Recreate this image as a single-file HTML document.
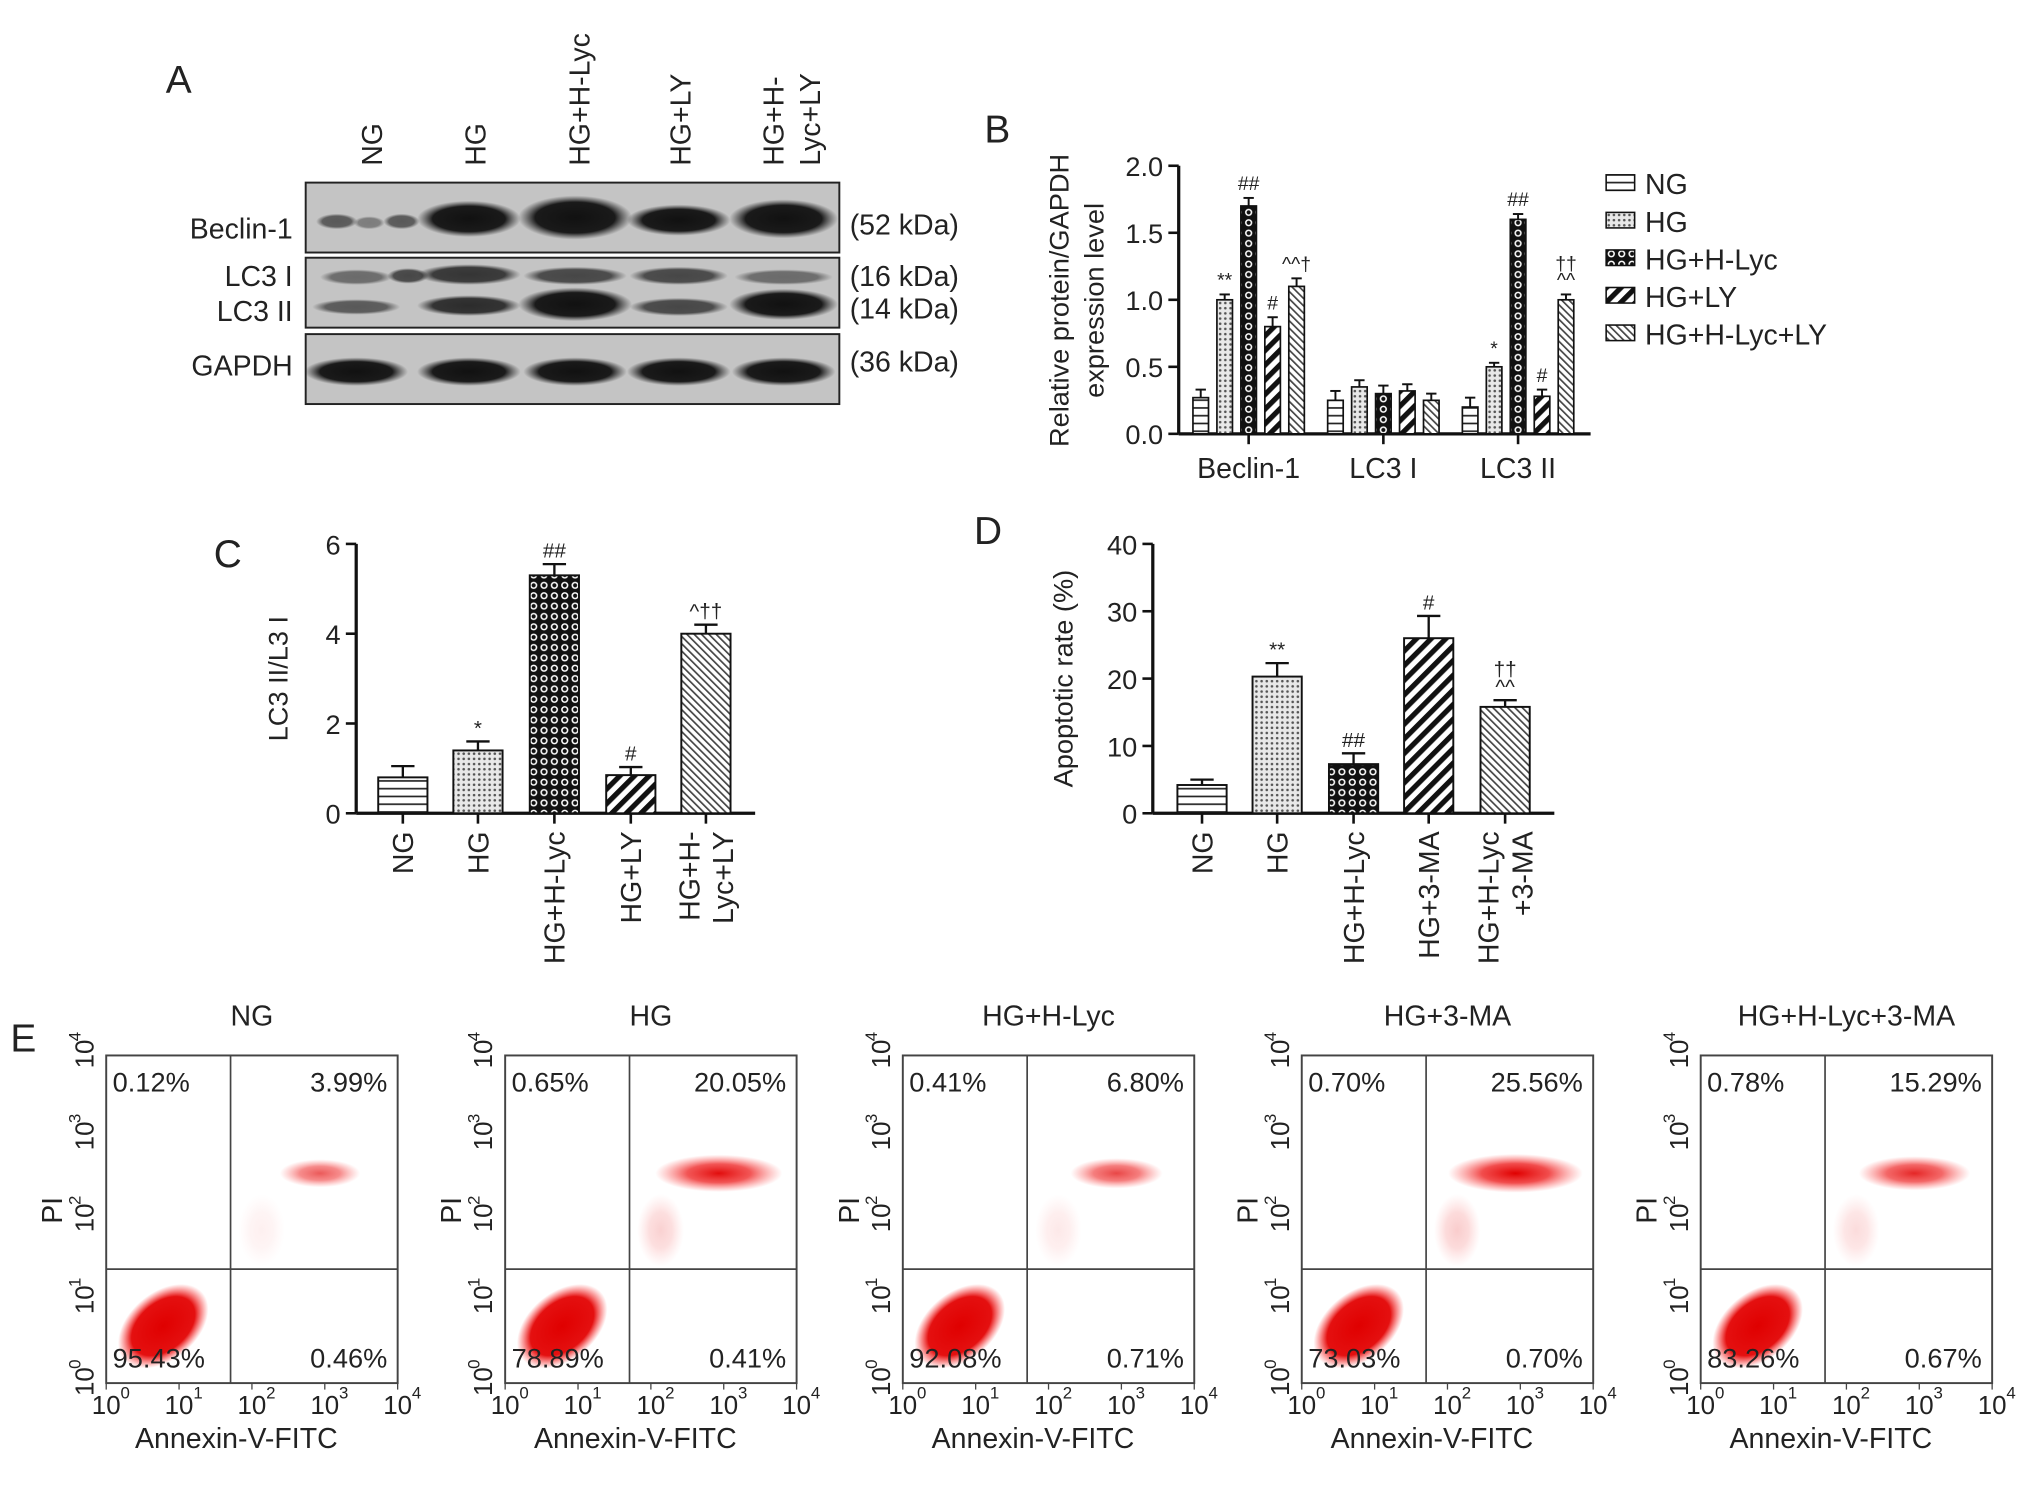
<!DOCTYPE html>
<html><head><meta charset="utf-8"><style>
html,body{margin:0;padding:0;background:#fff}
svg{display:block}
text{font-family:"Liberation Sans",Arial,sans-serif;fill:#222}
</style></head><body>
<svg id="fig" xmlns="http://www.w3.org/2000/svg" width="2031" height="1488" viewBox="0 0 1568 1149" preserveAspectRatio="none">
<defs>
<pattern id="p0" width="6" height="6" patternUnits="userSpaceOnUse"><rect width="6" height="6" fill="#fff"/><line x1="0" y1="3" x2="6" y2="3" stroke="#222" stroke-width="1.3"/></pattern>
<pattern id="p1" width="4" height="4" patternUnits="userSpaceOnUse"><rect width="4" height="4" fill="#e8e8e8"/><circle cx="2" cy="2" r="1" fill="#555"/></pattern>
<pattern id="p2" width="8" height="8" patternUnits="userSpaceOnUse"><rect width="8" height="8" fill="#111"/><circle cx="4" cy="4" r="2.2" fill="none" stroke="#fff" stroke-width="1.2"/></pattern>
<pattern id="p3" width="8" height="8" patternUnits="userSpaceOnUse" patternTransform="rotate(45)"><rect width="8" height="8" fill="#fff"/><rect width="4" height="8" fill="#111"/></pattern>
<pattern id="p4" width="4" height="4" patternUnits="userSpaceOnUse" patternTransform="rotate(-45)"><rect width="4" height="4" fill="#fff"/><rect width="1.3" height="4" fill="#444"/></pattern>
<radialGradient id="cloud"><stop offset="0" stop-color="#e00000"/><stop offset="0.7" stop-color="#e41010"/><stop offset="1" stop-color="#ff3030" stop-opacity="0"/></radialGradient>
<radialGradient id="cloud2"><stop offset="0" stop-color="#e00000"/><stop offset="0.5" stop-color="#ee2020" stop-opacity="0.8"/><stop offset="1" stop-color="#ff5050" stop-opacity="0"/></radialGradient>
<radialGradient id="band"><stop offset="0" stop-color="#111"/><stop offset="0.7" stop-color="#1a1a1a"/><stop offset="1" stop-color="#333" stop-opacity="0"/></radialGradient>
</defs>

<g>
<text x="128" y="72" font-size="30">A</text>
<g font-size="22">
<text transform="translate(295,128) rotate(-90)">NG</text>
<text transform="translate(375,128) rotate(-90)">HG</text>
<text transform="translate(455,128) rotate(-90)">HG+H-Lyc</text>
<text transform="translate(533,128) rotate(-90)">HG+LY</text>
<text transform="translate(605,128) rotate(-90)">HG+H-</text>
<text transform="translate(633,128) rotate(-90)">Lyc+LY</text>
</g>
<g fill="#c4c4c4" stroke="#222" stroke-width="1.5">
<rect x="236" y="141" width="412" height="54"/>
<rect x="236" y="199" width="412" height="54"/>
<rect x="236" y="258" width="412" height="54"/>
</g>
<g fill="url(#band)">
<ellipse cx="260" cy="171" rx="16" ry="6" opacity="0.6"/><ellipse cx="285" cy="172" rx="12" ry="5" opacity="0.4"/><ellipse cx="310" cy="171" rx="14" ry="6" opacity="0.6"/>
<ellipse cx="362" cy="169" rx="40" ry="14"/><ellipse cx="444" cy="168" rx="44" ry="17"/><ellipse cx="524" cy="170" rx="40" ry="12"/><ellipse cx="605" cy="169" rx="42" ry="15"/>
<ellipse cx="275" cy="214" rx="28" ry="6" opacity="0.5"/><ellipse cx="315" cy="213" rx="16" ry="6" opacity="0.7"/><ellipse cx="362" cy="212" rx="40" ry="8" opacity="0.8"/><ellipse cx="444" cy="213" rx="40" ry="7" opacity="0.7"/><ellipse cx="524" cy="213" rx="38" ry="7" opacity="0.7"/><ellipse cx="605" cy="214" rx="38" ry="6" opacity="0.5"/>
<ellipse cx="275" cy="237" rx="34" ry="6" opacity="0.6"/><ellipse cx="362" cy="236" rx="40" ry="8" opacity="0.85"/><ellipse cx="444" cy="235" rx="44" ry="13"/><ellipse cx="524" cy="237" rx="38" ry="7" opacity="0.7"/><ellipse cx="605" cy="235" rx="42" ry="12"/>
<ellipse cx="275" cy="287" rx="40" ry="11"/><ellipse cx="362" cy="287" rx="40" ry="11"/><ellipse cx="444" cy="287" rx="40" ry="11"/><ellipse cx="524" cy="287" rx="40" ry="11"/><ellipse cx="605" cy="287" rx="40" ry="11"/>
</g>
<g font-size="22">
<text x="226" y="184" text-anchor="end">Beclin-1</text>
<text x="226" y="221" text-anchor="end">LC3 I</text>
<text x="226" y="248" text-anchor="end">LC3 II</text>
<text x="226" y="290" text-anchor="end">GAPDH</text>
<text x="656" y="181">(52 kDa)</text>
<text x="656" y="221">(16 kDa)</text>
<text x="656" y="246">(14 kDa)</text>
<text x="656" y="287">(36 kDa)</text>
</g>
</g>

<g id="pb"></g>
<g id="pc"></g>
<g id="pd"></g>
<g id="pe"></g>
</svg>
<script>
const bGroups = ["Beclin-1","LC3 I","LC3 II"];
const bSeries = ["NG","HG","HG+H-Lyc","HG+LY","HG+H-Lyc+LY"];
const bValues = [[0.27,0.25,0.2],[1.0,0.35,0.5],[1.7,0.3,1.6],[0.8,0.32,0.28],[1.1,0.25,1.0]];
const bErrors = [[0.06,0.07,0.07],[0.04,0.05,0.03],[0.06,0.06,0.04],[0.07,0.05,0.05],[0.06,0.05,0.04]];
const bMarks = [["","",""],["**","","*"],["##","","##"],["#","","#"],["^^†","","††\n^^"]];
const bTicks = [0,0.5,1.0,1.5,2.0];
const cCats = ["NG","HG","HG+H-Lyc","HG+LY","HG+H-\nLyc+LY"];
const cValues = [0.8,1.4,5.3,0.85,4.0];
const cErrors = [0.25,0.2,0.25,0.18,0.2];
const cMarks = ["","*","##","#","^††"];
const cTicks = [0,2,4,6];
const dCats = ["NG","HG","HG+H-Lyc","HG+3-MA","HG+H-Lyc\n+3-MA"];
const dValues = [4.2,20.3,7.3,26,15.8];
const dErrors = [0.8,2.0,1.6,3.3,1.0];
const dMarks = ["","**","##","#","††\n^^"];
const dTicks = [0,10,20,30,40];
const eTitles = ["NG","HG","HG+H-Lyc","HG+3-MA","HG+H-Lyc+3-MA"];
const eUL = ["0.12%","0.65%","0.41%","0.70%","0.78%"];
const eUR = ["3.99%","20.05%","6.80%","25.56%","15.29%"];
const eLL = ["95.43%","78.89%","92.08%","73.03%","83.26%"];
const eLR = ["0.46%","0.41%","0.71%","0.70%","0.67%"];

const NS="http://www.w3.org/2000/svg";
function mk(parent,tag,attrs,txt){const e=document.createElementNS(NS,tag);for(const k in attrs)e.setAttribute(k,attrs[k]);if(txt!==undefined)e.textContent=txt;parent.appendChild(e);return e;}
function label(parent,x,y,str,size,anchor){const lines=str.split("\n");lines.forEach((l,i)=>{const t=mk(parent,"text",{x:x,y:y-(lines.length-1-i)*size*0.85,"font-size":size,"text-anchor":anchor||"middle"},l);

});}

function axisY(g,x,y0,y1,ticks,max,fmt,size){mk(g,"line",{x1:x,y1:y0,x2:x,y2:y1,stroke:"#111","stroke-width":2.5});
ticks.forEach(v=>{const y=y0-(v/max)*(y0-y1);mk(g,"line",{x1:x-8,y1:y,x2:x,y2:y,stroke:"#111","stroke-width":2});
const t=mk(g,"text",{x:x-12,y:y+8,"font-size":size,"text-anchor":"end"},fmt(v));

});}

(function(){const g=document.getElementById("pb");
const x0=910,y0=335,y1=128,max=2,xEnd=1228;
const Y=v=>y0-v/max*(y0-y1);
mk(g,"text",{x:760,y:110,"font-size":30},"B");
axisY(g,x0,y0,y1,bTicks,max,v=>v.toFixed(1),21);
mk(g,"line",{x1:x0,y1:y0,x2:xEnd,y2:y0,stroke:"#111","stroke-width":2.5});
const gc=[964,1068,1172];
bGroups.forEach((name,gi)=>{mk(g,"line",{x1:gc[gi],y1:y0,x2:gc[gi],y2:y0+8,stroke:"#111","stroke-width":2});
const t=mk(g,"text",{x:gc[gi],y:y0+34,"font-size":22,"text-anchor":"middle"},name);


bSeries.forEach((s,si)=>{const cx=gc[gi]+(si-2)*18.5,w=12,v=bValues[si][gi],e=bErrors[si][gi];
mk(g,"line",{x1:cx,y1:Y(v),x2:cx,y2:Y(v+e),stroke:"#111","stroke-width":1.5});
mk(g,"line",{x1:cx-4,y1:Y(v+e),x2:cx+4,y2:Y(v+e),stroke:"#111","stroke-width":1.5});
const r=mk(g,"rect",{x:cx-w/2,y:Y(v),width:w,height:y0-Y(v),fill:"url(#p"+si+")",stroke:"#111","stroke-width":1.3});


if(bMarks[si][gi])label(g,cx,Y(v+e)-6,bMarks[si][gi],15);});});
const yt=mk(g,"text",{transform:"translate(825,232) rotate(-90)","font-size":21,"text-anchor":"middle"},"Relative protein/GAPDH");

const yt2=mk(g,"text",{transform:"translate(852,232) rotate(-90)","font-size":21,"text-anchor":"middle"},"expression level");

bSeries.forEach((s,si)=>{const y=143+si*29;
const r=mk(g,"rect",{x:1240,y:y-8,width:22,height:12,fill:"url(#p"+si+")",stroke:"#111","stroke-width":1.2});


const t=mk(g,"text",{x:1270,y:y+7,"font-size":22},s);

});})();

function barPanel(id,L,x0,y0,y1,xEnd,max,ticks,cats,vals,errs,marks,cxs,ytitle,ytx){const g=document.getElementById(id);
const Y=v=>y0-v/max*(y0-y1);
const pl=mk(g,"text",{x:L[1],y:L[2],"font-size":30},L[0]);

axisY(g,x0,y0,y1,ticks,max,v=>String(v),21);
mk(g,"line",{x1:x0,y1:y0,x2:xEnd,y2:y0,stroke:"#111","stroke-width":2.5});
cats.forEach((c,i)=>{const cx=cxs[i],w=38,v=vals[i],e=errs[i];
mk(g,"line",{x1:cx,y1:Y(v),x2:cx,y2:Y(v+e),stroke:"#111","stroke-width":1.8});
mk(g,"line",{x1:cx-9,y1:Y(v+e),x2:cx+9,y2:Y(v+e),stroke:"#111","stroke-width":1.8});
const r=mk(g,"rect",{x:cx-w/2,y:Y(v),width:w,height:y0-Y(v),fill:"url(#p"+i+")",stroke:"#111","stroke-width":1.5});


mk(g,"line",{x1:cx,y1:y0,x2:cx,y2:y0+8,stroke:"#111","stroke-width":2});
if(marks[i])label(g,cx,Y(v+e)-5,marks[i],16);
const lines=c.split("\n");lines.forEach((l,li)=>{const t=mk(g,"text",{transform:"translate("+(cx+8+(li-(lines.length-1)/2)*26)+","+(y0+14)+") rotate(-90)","font-size":22,"text-anchor":"end"},l);

});});
const yt=mk(g,"text",{transform:"translate("+ytx+","+((y0+y1)/2)+") rotate(-90)","font-size":21,"text-anchor":"middle"},ytitle);
}
barPanel("pc",["C",165,438],275,628,420,583,6,cTicks,cCats,cValues,cErrors,cMarks,[311,369,428,487,545],"LC3 II/L3 I",222);
barPanel("pd",["D",752,420],890,628,420,1200,40,dTicks,dCats,dValues,dErrors,dMarks,[928,986,1045,1103,1162],"Apoptotic rate (%)",828);

(function(){const g=document.getElementById("pe");
const pe=mk(g,"text",{x:8,y:812,"font-size":30},"E");
const px=[82,390,697,1005,1313],W=225,top=815,bot=1068;
const hiW=[0.3,0.9,0.45,1.0,0.7];
eTitles.forEach((t,i)=>{const x=px[i],sub=mk(g,"g",{});


const tt=mk(sub,"text",{x:x+W/2,y:792,"font-size":22,"text-anchor":"middle"},t);
const qx=x+96,qy=980;
mk(sub,"ellipse",{cx:x+44,cy:1024,rx:40,ry:26,fill:"url(#cloud)",transform:"rotate(-40 "+(x+44)+" 1024)"});
mk(sub,"ellipse",{cx:x+165,cy:906,rx:22+30*hiW[i],ry:9+6*hiW[i],fill:"url(#cloud2)",opacity:0.5+0.5*hiW[i]});
mk(sub,"ellipse",{cx:x+120,cy:950,rx:18,ry:28,fill:"url(#cloud2)",opacity:0.2*hiW[i]});
mk(sub,"rect",{x:x,y:top,width:W,height:bot-top,fill:"none",stroke:"#444","stroke-width":1.5});
mk(sub,"line",{x1:qx,y1:top,x2:qx,y2:bot,stroke:"#444","stroke-width":1.3});
mk(sub,"line",{x1:x,y1:qy,x2:x+W,y2:qy,stroke:"#444","stroke-width":1.3});
[[x+5,843,eUL[i],"start"],[x+W-8,843,eUR[i],"end"],[x+5,1056,eLL[i],"start"],[x+W-8,1056,eLR[i],"end"]].forEach(a=>{const q=mk(sub,"text",{x:a[0],y:a[1],"font-size":21,"text-anchor":a[3]},a[2]);});
for(let k=0;k<5;k++){const tx=x+k*W/4,ty=bot-k*(bot-top)/4;
mk(sub,"line",{x1:tx,y1:bot,x2:tx,y2:bot+5,stroke:"#444"});
const a=mk(sub,"text",{x:tx,y:bot+24,"font-size":20,"text-anchor":"middle"},"10");
mk(sub,"text",{x:tx+11,y:bot+12,"font-size":13},String(k));
const b=mk(sub,"text",{transform:"translate("+(x-10)+","+(ty+10)+") rotate(-90)","font-size":20},"10");
mk(sub,"text",{transform:"translate("+(x-20)+","+(ty-11)+") rotate(-90)","font-size":13},String(k));}
const xl=mk(sub,"text",{x:x+W/2-12,y:1118,"font-size":22,"text-anchor":"middle"},"Annexin-V-FITC");
const yl=mk(sub,"text",{transform:"translate("+(x-34)+",945) rotate(-90)","font-size":22},"PI");});})();
</script>
</body></html>
